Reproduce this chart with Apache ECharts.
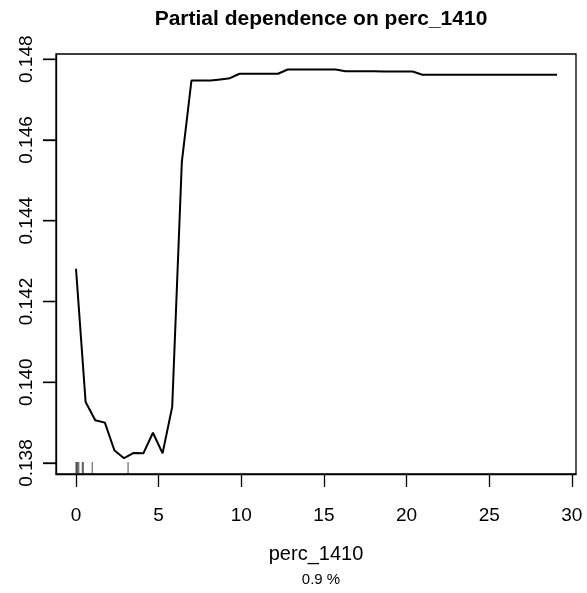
<!DOCTYPE html>
<html>
<head>
<meta charset="utf-8">
<script src="https://cdn.jsdelivr.net/npm/echarts@6/dist/echarts.min.js"></script>
<style>
  html, body { margin: 0; padding: 0; background: #fff; }
  #chart { width: 587px; height: 593px; }
</style>
</head>
<body>
<div id="chart"></div>
<script>
// Grid of perc_1410 values where the partial dependence was evaluated
const xGrid = [0, 0.582, 1.164, 1.746, 2.328, 2.91, 3.492, 4.074, 4.656, 5.238,
  5.82, 6.402, 6.984, 7.566, 8.148, 8.73, 9.312, 9.894, 10.476, 11.058,
  11.64, 12.222, 12.804, 13.386, 13.968, 14.55, 15.132, 15.714, 16.296, 16.878,
  17.46, 18.042, 18.624, 19.206, 19.788, 20.37, 20.952, 21.534, 22.116, 22.698,
  23.28, 23.862, 24.444, 25.026, 25.608, 26.19, 26.772, 27.354, 27.936, 28.518, 29.1];

// Partial dependence at each grid value
const pdValues = [0.14281, 0.13951, 0.13906, 0.13900, 0.13831, 0.13812, 0.13825, 0.13824, 0.13875, 0.13824,
  0.13939, 0.14545, 0.14747, 0.14747, 0.14747, 0.14750, 0.14753, 0.14764, 0.14764, 0.14764,
  0.14764, 0.14764, 0.147745, 0.147745, 0.147745, 0.147745, 0.147745, 0.147745, 0.147703, 0.147703,
  0.147703, 0.147703, 0.147695, 0.147695, 0.147695, 0.147695, 0.147614, 0.147614, 0.147614, 0.147614,
  0.147614, 0.147614, 0.147614, 0.147614, 0.147614, 0.147614, 0.147614, 0.147614, 0.147614, 0.147614, 0.147614];

// Deciles of perc_1410 shown as a rug along the bottom
const rugValues = [0, 0.04, 0.1, 0.17, 0.38, 0.44, 0.98, 3.15];

// Tick labels
const xTicks = [0, 5, 10, 15, 20, 25, 30];
const yTicks = [0.138, 0.140, 0.142, 0.144, 0.146, 0.148];

const X_MIN = -1.21, X_MAX = 30.25;
const Y_MIN = 0.137728, Y_MAX = 0.148129;

const FONT = '"Liberation Sans", Arial, Helvetica, sans-serif';
const AXIS_LINE = { show: true, onZero: false, lineStyle: { color: '#000', width: 1.3 } };
const TICK_STYLE = { color: '#000', width: 1.3 };
const TICK_LEN = 13;

const chart = echarts.init(document.getElementById('chart'), null, { renderer: 'canvas' });

chart.setOption({
  backgroundColor: '#fff',
  animation: false,
  title: [
    {
      text: 'Partial dependence on perc_1410',
      left: 316,
      top: 4,
      textAlign: 'center',
      textStyle: { fontFamily: FONT, fontSize: 21, fontWeight: 'bold', color: '#000' }
    },
    {
      text: '0.9 %',
      left: 316,
      top: 567,
      textAlign: 'center',
      textStyle: { fontFamily: FONT, fontSize: 15, fontWeight: 'normal', color: '#000' }
    }
  ],
  grid: {
    left: 56, top: 54, width: 520, height: 420,
    outerBoundsMode: 'none',
    show: true, borderColor: '#000', borderWidth: 1.3, backgroundColor: 'transparent'
  },
  xAxis: {
    type: 'value',
    min: X_MIN, max: X_MAX,
    name: 'perc_1410',
    nameLocation: 'middle',
    nameGap: 70,
    nameTextStyle: { fontFamily: FONT, fontSize: 20, color: '#000' },
    axisLine: AXIS_LINE,
    splitLine: { show: false },
    axisTick: { show: true, customValues: xTicks, length: TICK_LEN, lineStyle: TICK_STYLE },
    axisLabel: {
      customValues: xTicks, margin: 32,
      fontFamily: FONT, fontSize: 19, color: '#000'
    }
  },
  yAxis: {
    type: 'value',
    position: 'left',
    min: Y_MIN, max: Y_MAX,
    axisLine: AXIS_LINE,
    splitLine: { show: false },
    axisTick: { show: true, inside: false, customValues: yTicks, length: TICK_LEN, lineStyle: TICK_STYLE },
    axisLabel: {
      customValues: yTicks, margin: 20, rotate: 90,
      fontFamily: FONT, fontSize: 19, color: '#000',
      formatter: v => v.toFixed(3)
    }
  },
  series: [
    {
      type: 'line',
      data: xGrid.map((x, i) => [x, pdValues[i]]),
      showSymbol: false,
      lineStyle: { color: '#000', width: 2 },
      z: 3
    },
    {
      type: 'scatter',
      data: rugValues.map(v => [v, Y_MIN]),
      symbol: 'rect',
      symbolSize: [1, 12],
      symbolOffset: [0, -6],
      itemStyle: { color: '#222' },
      silent: true,
      z: 2
    }
  ]
});

// Outward tick marks on the left edge of the frame, placed through the y scale
const leftTicks = yTicks.map(v => {
  const p = chart.convertToPixel({ gridIndex: 0 }, [X_MIN, v]);
  return {
    type: 'line',
    silent: true,
    z: 100,
    shape: { x1: p[0] - TICK_LEN, y1: p[1], x2: p[0], y2: p[1] },
    style: { stroke: TICK_STYLE.color, lineWidth: TICK_STYLE.width }
  };
});
chart.setOption({ graphic: leftTicks });
</script>
</body>
</html>
